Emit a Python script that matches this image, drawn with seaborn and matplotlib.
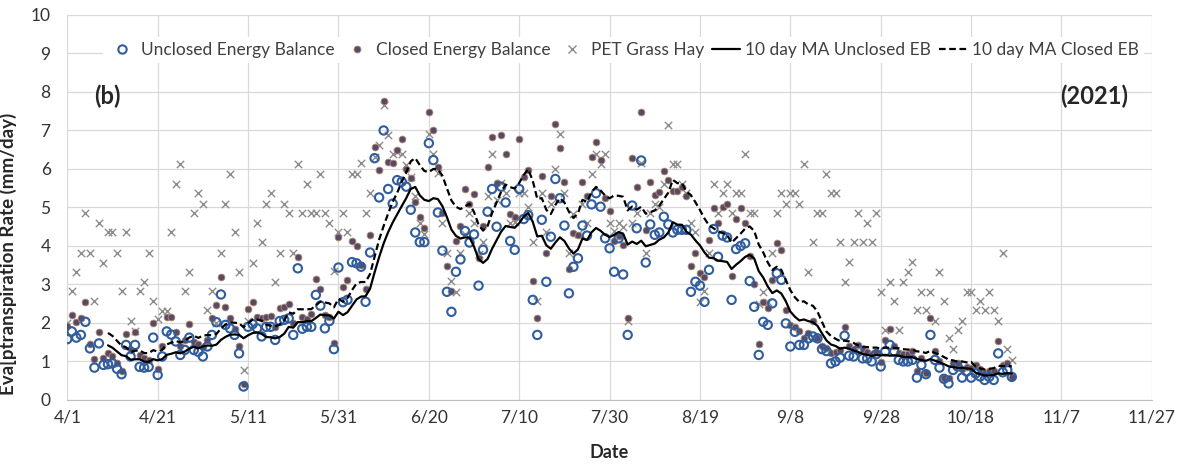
import numpy as np
import pandas as pd
import seaborn as sns
import matplotlib.pyplot as plt
from matplotlib.lines import Line2D

# daily ET values, 4/1 to 10/27 (2021)
start_date = "2021-04-01"

unclosed = [
    1.58, 1.78, 1.62, 1.69, 2.03, 1.34, 0.84, 1.47, 0.91, 0.93,
    0.95, 0.81, 0.67, 1.43, 1.13, 1.43, 0.86, 0.84, 0.86, 1.62,
    0.65, 1.13, 1.78, 1.70, 1.52, 1.17, 1.30, 1.62, 1.30, 1.25,
    1.13, 1.39, 1.69, 2.02, 2.74, 1.95, 1.86, 1.69, 1.21, 0.35,
    1.90, 1.97, 1.86, 1.65, 1.90, 1.90, 1.56, 2.05, 2.08, 2.12,
    1.69, 3.42, 1.85, 1.90, 1.90, 2.73, 2.45, 1.86, 2.05, 1.32,
    3.44, 2.54, 2.60, 3.58, 3.55, 3.46, 2.55, 3.83, 6.28, 5.26,
    7.00, 5.48, 5.10, 5.71, 5.67, 5.54, 4.94, 4.35, 4.10, 4.10,
    6.67, 6.23, 4.87, 3.88, 2.81, 2.29, 3.33, 3.65, 4.39, 4.09,
    4.30, 2.97, 3.90, 4.89, 5.48, 4.50, 5.54, 5.13, 4.13, 3.90,
    5.48, 4.70, 4.80, 2.60, 1.69, 4.68, 3.07, 4.24, 5.74, 5.24,
    4.53, 2.77, 3.46, 3.68, 4.53, 4.27, 5.08, 5.37, 5.02, 4.20,
    3.94, 3.33, 4.20, 3.26, 1.69, 5.05, 4.46, 6.22, 3.57, 4.56,
    4.29, 4.35, 4.76, 4.56, 4.35, 4.42, 4.42, 4.42, 2.81, 3.07,
    2.97, 2.55, 3.38, 4.44, 3.72, 4.27, 4.22, 2.60, 3.92, 4.00,
    4.07, 3.09, 2.42, 1.17, 2.03, 1.95, 2.51, 3.29, 3.12, 1.99,
    1.39, 1.77, 1.43, 1.43, 1.60, 1.65, 1.60, 1.32, 1.27, 0.95,
    1.00, 1.10, 1.67, 1.15, 1.13, 1.30, 1.08, 1.08, 1.00, 1.19,
    0.87, 1.26, 1.43, 1.26, 1.04, 1.00, 1.00, 1.04, 0.58, 0.91,
    0.67, 1.69, 1.04, 0.84, 0.55, 0.43, 0.78, 0.87, 0.58, 0.74,
    0.58, 0.69, 0.61, 0.52, 0.60, 0.52, 1.21, 0.72, 0.78, 0.60,
]

closed = [
    1.92, 2.20, 2.03, 2.12, 2.55, 1.45, 1.06, 1.77, 1.10, 1.21,
    1.15, 0.95, 0.75, 1.72, 1.30, 1.77, 1.17, 1.08, 1.05, 2.00,
    0.80, 1.39, 2.16, 2.15, 1.77, 1.39, 1.55, 1.97, 1.50, 1.45,
    1.38, 1.55, 2.12, 2.47, 3.20, 2.42, 2.12, 1.84, 1.39, 0.41,
    2.36, 2.55, 2.16, 2.12, 2.16, 2.19, 1.90, 2.40, 2.42, 2.50,
    2.00, 3.72, 2.15, 2.10, 2.23, 3.14, 2.88, 2.20, 2.16, 1.47,
    4.24, 2.94, 3.12, 4.13, 4.00, 3.50, 2.88, 4.29, 6.58, 5.97,
    7.77, 6.19, 6.15, 6.49, 6.78, 6.00, 5.76, 5.13, 4.76, 4.46,
    7.47, 7.00, 6.06, 4.85, 3.49, 2.83, 4.13, 4.53, 5.48, 5.10,
    5.34, 3.70, 4.53, 6.06, 6.84, 5.63, 6.87, 6.38, 4.82, 4.76,
    6.78, 5.80, 5.97, 3.09, 2.12, 5.83, 3.83, 5.31, 7.16, 6.54,
    5.65, 3.40, 4.33, 4.29, 5.65, 5.30, 6.32, 6.71, 6.23, 5.24,
    4.91, 4.13, 4.25, 4.03, 2.12, 6.29, 5.52, 7.47, 4.42, 5.67,
    5.32, 5.39, 5.95, 5.71, 5.43, 5.43, 5.52, 5.30, 3.49, 3.81,
    3.29, 3.20, 4.16, 4.98, 4.60, 5.00, 5.08, 3.23, 4.70, 4.98,
    4.59, 3.75, 3.00, 1.45, 2.54, 2.40, 3.12, 4.07, 3.90, 2.34,
    1.95, 1.90, 1.80, 1.60, 1.73, 2.05, 1.62, 1.39, 1.36, 1.21,
    1.24, 1.30, 1.90, 1.41, 1.32, 1.43, 1.32, 1.25, 1.20, 1.24,
    0.98, 1.56, 1.84, 1.40, 1.21, 1.20, 1.20, 1.26, 0.75, 1.10,
    0.69, 2.12, 1.26, 1.00, 0.58, 0.56, 0.95, 0.95, 0.80, 0.85,
    0.82, 0.90, 0.80, 0.70, 0.75, 0.75, 1.53, 0.90, 0.95, 0.60,
]

pet = [
    2.00, 2.83, 3.33, 3.83, 4.85, 3.83, 2.57, 4.59, 3.57, 4.35,
    4.35, 3.83, 2.83, 4.35, 2.05, 1.80, 2.83, 3.07, 3.83, 2.57,
    2.10, 2.31, 2.31, 4.35, 5.60, 6.12, 2.83, 3.33, 4.85, 5.37,
    5.10, 2.34, 2.83, 2.00, 3.83, 5.10, 5.86, 4.35, 3.33, 0.78,
    2.05, 3.57, 4.59, 4.10, 5.10, 5.37, 3.07, 3.83, 5.10, 4.85,
    3.83, 6.12, 4.85, 5.60, 4.85, 4.85, 5.86, 4.85, 4.59, 3.35,
    4.37, 4.85, 4.35, 5.86, 5.86, 6.15, 4.85, 5.37, 6.30, 6.62,
    7.65, 6.88, 6.40, 6.45, 6.40, 6.10, 5.80, 5.30, 4.60, 4.30,
    6.90, 6.40, 5.89, 4.59, 3.83, 3.09, 2.81, 3.83, 4.30, 4.85,
    4.59, 3.78, 4.10, 5.30, 6.38, 5.20, 5.63, 5.37, 4.60, 4.61,
    5.37, 5.37, 5.00, 4.10, 2.57, 5.37, 4.35, 5.08, 6.00, 6.90,
    5.37, 3.83, 4.82, 4.30, 5.10, 4.60, 5.86, 6.40, 6.12, 6.40,
    4.59, 4.40, 4.59, 4.50, 2.05, 4.59, 4.85, 6.15, 3.83, 4.85,
    5.10, 5.00, 5.60, 7.14, 6.12, 6.12, 5.60, 5.37, 4.59, 4.35,
    2.55, 2.83, 3.83, 5.60, 4.85, 5.37, 5.60, 4.85, 5.37, 5.37,
    6.38, 4.85, 4.85, 2.50, 2.81, 2.55, 3.83, 4.85, 5.37, 5.10,
    5.37, 5.37, 5.10, 6.12, 3.33, 4.10, 4.85, 4.85, 5.86, 5.37,
    5.37, 4.10, 3.07, 3.58, 4.10, 4.85, 4.10, 4.59, 4.10, 4.85,
    2.81, 1.82, 3.07, 2.57, 1.82, 3.07, 3.33, 3.58, 2.34, 2.81,
    2.34, 2.81, 2.05, 3.33, 2.57, 1.60, 1.32, 1.82, 2.05, 2.81,
    2.81, 2.34, 2.57, 2.34, 2.81, 2.34, 2.05, 3.83, 1.32, 1.04,
]

df = pd.DataFrame({
    "date": pd.date_range(start_date, periods=len(unclosed), freq="D"),
    "unclosed": unclosed,
    "closed": closed,
    "pet": pet,
})
df["ma_unclosed"] = df["unclosed"].rolling(10).mean()
df["ma_closed"] = df["closed"].rolling(10).mean()

sns.set_style("white")
plt.rcParams["font.family"] = ["Lato", "DejaVu Sans"]

fig = plt.figure(figsize=(11.87, 4.67), dpi=100)
ax = fig.add_axes([0.0567, 0.1435, 0.9137, 0.8245])

blue = "#2f5d9e"
dot_face = "#574a68"
dot_edge = "#b48c6e"
grey = "#8c8c8c"

sns.scatterplot(data=df, x="date", y="pet", marker="x", color=grey, s=28,
                linewidth=1.0, ax=ax, zorder=3)
sns.scatterplot(data=df, x="date", y="closed", color=dot_face, edgecolor=dot_edge,
                s=24, linewidth=0.6, ax=ax, zorder=4)
sns.scatterplot(data=df, x="date", y="unclosed", facecolor="none", edgecolor=blue,
                s=36, linewidth=1.5, ax=ax, zorder=5)
sns.lineplot(data=df, x="date", y="ma_unclosed", color="black", lw=1.6, ax=ax, zorder=6)
sns.lineplot(data=df, x="date", y="ma_closed", color="black", lw=1.6, ls=(0, (3, 1.6)),
             ax=ax, zorder=6)

ticks = pd.date_range("2021-04-01", "2021-11-27", freq="20D")
ax.set_xlim(ticks[0], ticks[-1])
ax.set_xticks(ticks)
ax.set_xticklabels([f"{d.month}/{d.day}" for d in ticks])
ax.set_ylim(0, 10)
ax.set_yticks(range(0, 11))

ax.grid(True, color="#d9d9d9", lw=0.9)
ax.set_axisbelow(True)
for side in ["top", "right", "left"]:
    ax.spines[side].set_visible(False)
ax.spines["bottom"].set_color("#bfbfbf")
ax.tick_params(axis="x", length=6, color="#bfbfbf", labelsize=12.5, pad=1,
               labelcolor="#333333")
ax.tick_params(axis="y", length=0, labelsize=12.5, pad=12, labelcolor="#333333")

ax.set_xlabel("Date", fontsize=13, fontweight="bold", labelpad=13)
ax.set_ylabel("Eva[ptranspiration Rate (mm/day)", fontsize=13.5, fontweight="bold")
ax.yaxis.set_label_coords(-0.046, 0.38)

ax.text(0.025, 0.79, "(b)", transform=ax.transAxes, fontsize=17, fontweight="bold",
        va="center")
ax.text(0.978, 0.79, "(2021)", transform=ax.transAxes, fontsize=17, fontweight="bold",
        va="center", ha="right")

handles = [
    Line2D([], [], ls="none", marker="o", mfc="none", mec=blue, mew=1.5, ms=6),
    Line2D([], [], ls="none", marker="o", mfc=dot_face, mec=dot_edge, mew=0.6, ms=5),
    Line2D([], [], ls="none", marker="x", color=grey, mew=1.0, ms=5.5),
    Line2D([], [], color="black", lw=1.6),
    Line2D([], [], color="black", lw=1.6, ls=(0, (3, 1.6))),
]
labels = ["Unclosed Energy Balance", "Closed Energy Balance", "PET Grass Hay",
          "10 day MA Unclosed EB", "10 day MA Closed EB"]
ax.legend(handles, labels, loc="center", bbox_to_anchor=(0.513, 0.909), ncol=5,
          frameon=True, facecolor="white", edgecolor="none", framealpha=1,
          fontsize=12.5, handlelength=1.6, handletextpad=0.3, columnspacing=0.45,
          borderpad=0.3, labelcolor="#404040")

fig.savefig("out.png", dpi=100)
